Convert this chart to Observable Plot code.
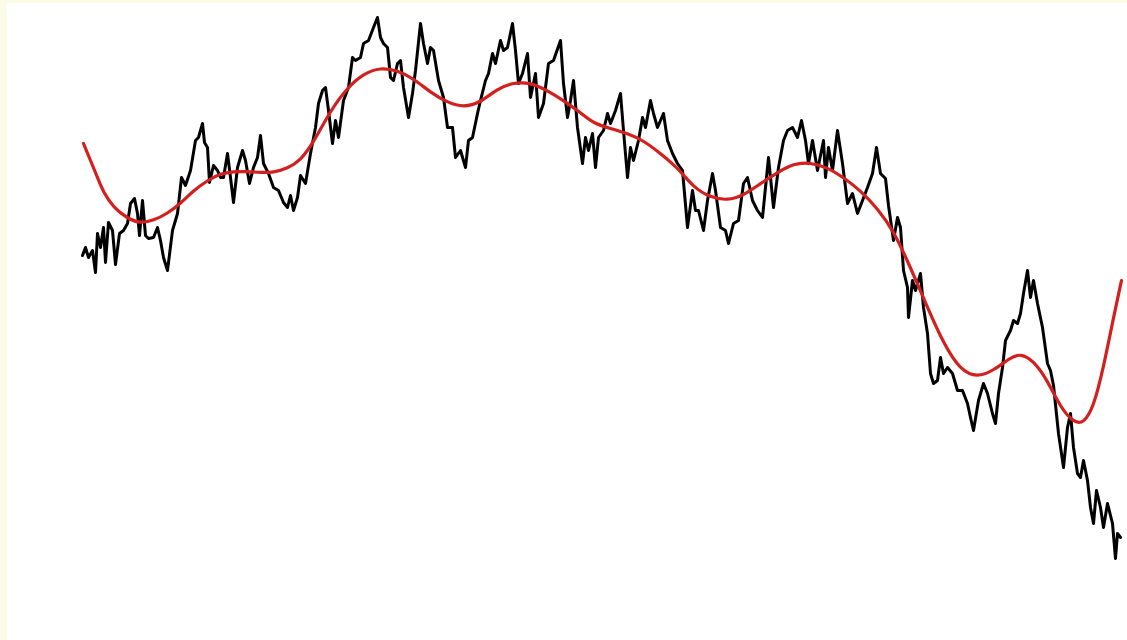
<!DOCTYPE html>
<html>
<head>
<meta charset="utf-8">
<script src="https://cdn.jsdelivr.net/npm/d3@7"></script>
<script src="https://cdn.jsdelivr.net/npm/@observablehq/plot@0.6"></script>
<style>
  html, body { margin: 0; background: #fbfbe6; }
  body { padding: 3px 0 0 7px; overflow: hidden; font-family: "DejaVu Sans", sans-serif; }
</style>
</head>
<body>
<div id="chart"></div>
<script>
// Random walk: step index and level at each sampled step
const walkStep = [0,3,6,10,13,15,18,21,23,26,30,33,37,41,45,48,52,55,57,60,63,66,71,75,78,81,85,90,95,99,103,108,113,116,120,122,125,127,131,135,138,141,145,148,151,155,160,163,167,171,175,178,181,186,191,196,201,205,208,211,215,218,223,228,233,236,240,243,246,250,253,256,261,266,270,273,278,281,286,291,295,298,301,305,308,311,315,318,321,326,330,333,338,341,345,348,351,356,361,365,370,373,378,383,386,390,395,398,403,406,410,413,418,421,425,430,433,436,440,445,448,453,456,461,466,471,478,481,485,488,491,495,500,503,506,510,513,516,521,525,528,533,538,541,545,548,551,556,560,563,568,571,575,578,581,585,590,595,600,605,610,613,616,621,625,630,633,638,643,646,651,656,661,665,670,675,680,683,686,691,696,701,705,710,715,719,723,726,730,735,741,743,746,750,755,760,765,770,775,780,785,790,794,798,803,806,811,815,818,821,825,826,830,833,838,841,845,848,851,855,858,861,865,870,875,880,885,888,891,896,901,905,910,913,916,920,923,928,931,935,938,941,945,948,951,955,960,965,968,971,976,981,985,988,991,995,998,1001,1005,1008,1011,1014,1018,1021,1025,1030,1033,1035,1038];
const walkLevel = [345,353,343,350,328,367,353,373,338,378,370,336,367,370,377,397,402,387,365,400,365,362,363,373,360,343,330,370,387,423,415,430,460,463,477,458,453,418,435,430,423,423,447,423,398,433,450,440,417,433,443,465,437,427,413,410,398,393,405,390,403,425,417,447,473,497,510,513,490,457,480,463,500,513,543,540,543,557,560,573,583,563,557,553,523,520,537,540,513,483,507,530,577,557,537,553,550,520,503,473,473,443,450,433,460,463,487,500,520,527,547,537,560,550,553,577,550,517,527,547,503,527,483,497,537,540,560,517,483,500,520,473,437,463,450,467,433,463,470,487,477,490,507,470,423,453,440,460,483,473,500,487,473,480,487,460,447,437,430,373,410,390,390,370,400,427,410,373,370,357,377,380,417,423,400,390,383,413,443,393,433,460,470,473,463,480,460,437,460,430,460,423,453,430,470,437,397,407,387,400,413,427,453,427,422,395,360,383,373,330,313,283,320,310,327,293,267,227,217,220,243,227,233,227,210,210,197,183,170,200,217,207,187,177,207,233,260,270,280,277,287,307,330,303,320,297,273,237,230,215,167,133,173,187,153,127,123,140,120,93,77,110,93,73,97,77,42,67,63];

// Smooth trend through the walk, sampled along the same step axis
const trendStep = [1,8,15,21,31,45,58,71,85,98,111,125,138,151,165,178,191,205,218,231,248,265,281,298,315,331,348,365,381,398,415,431,448,465,481,498,511,528,545,561,578,595,611,628,645,661,678,695,711,728,745,761,778,795,811,828,845,861,878,895,911,928,938,951,965,978,991,1001,1011,1021,1031,1039];
const trendLevel = [457,440,423,408,393,382,377,380,387,397,410,420,427,429,429,428,428,432,440,458,490,513,527,533,530,522,508,498,493,498,512,518,518,510,500,488,477,472,467,460,447,433,413,403,400,405,417,428,437,438,433,423,410,392,370,333,293,257,230,223,230,243,247,240,220,193,178,177,193,233,283,320];

const walk = walkStep.map((t, i) => ({t, v: walkLevel[i]}));
const trend = trendStep.map((t, i) => ({t, v: trendLevel[i]}));

const chart = Plot.plot({
  width: 1120,
  height: 637,
  marginLeft: 75,
  marginRight: 5,
  marginTop: 0,
  marginBottom: 0,
  style: {background: "white"},
  x: {domain: [0, 1040], axis: null},
  y: {domain: [0, 597], range: [597, 0], axis: null},
  marks: [
    Plot.line(walk, {x: "t", y: "v", stroke: "black", strokeWidth: 3, strokeLinejoin: "round"}),
    Plot.line(trend, {x: "t", y: "v", stroke: "#d41f1f", strokeWidth: 3.2, curve: "basis"})
  ]
});
document.getElementById("chart").append(chart);
</script>
</body>
</html>
